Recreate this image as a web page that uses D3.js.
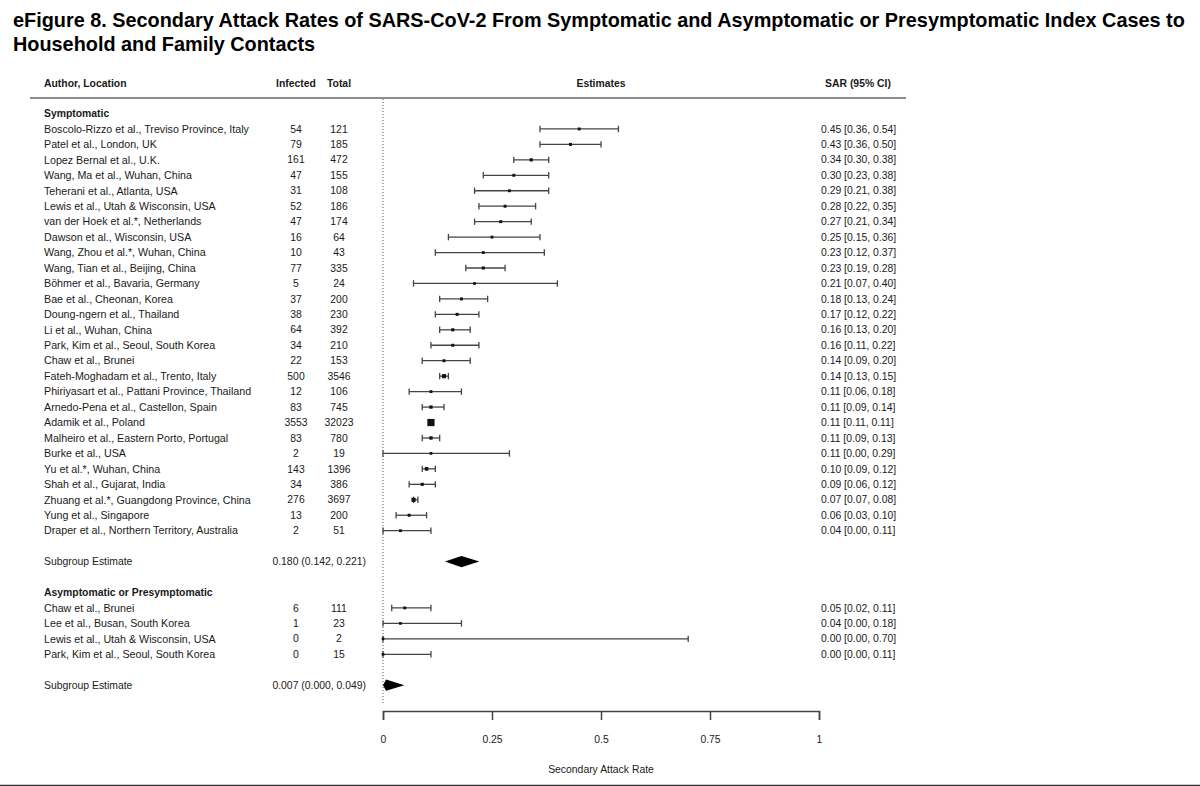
<!DOCTYPE html>
<html><head><meta charset="utf-8">
<script src="https://cdn.jsdelivr.net/npm/d3@7"></script>
<style>
html,body{margin:0;padding:0;background:#fff;}
svg{display:block;font-family:"Liberation Sans",Arial,Helvetica,sans-serif;}
</style></head><body>
<svg id="c" width="1200" height="786"></svg>
<script>
// ---- data ----
const titleLines = ["eFigure 8. Secondary Attack Rates of SARS-CoV-2 From Symptomatic and Asymptomatic or Presymptomatic Index Cases to","Household and Family Contacts"];
const headers = ["Author, Location","Infected","Total","Estimates","SAR (95% CI)"];
const groupNames = ["Symptomatic","Asymptomatic or Presymptomatic"];

const symAuthors = ["Boscolo-Rizzo et al., Treviso Province, Italy","Patel et al., London, UK","Lopez Bernal et al., U.K.","Wang, Ma et al., Wuhan, China","Teherani et al., Atlanta, USA","Lewis et al., Utah & Wisconsin, USA","van der Hoek et al.*, Netherlands","Dawson et al., Wisconsin, USA","Wang, Zhou et al.*, Wuhan, China","Wang, Tian et al., Beijing, China","Böhmer et al., Bavaria, Germany","Bae et al., Cheonan, Korea","Doung-ngern et al., Thailand","Li et al., Wuhan, China","Park, Kim et al., Seoul, South Korea","Chaw et al., Brunei","Fateh-Moghadam et al., Trento, Italy","Phiriyasart et al., Pattani Province, Thailand","Arnedo-Pena et al., Castellon, Spain","Adamik et al., Poland","Malheiro et al., Eastern Porto, Portugal","Burke et al., USA","Yu et al.*, Wuhan, China","Shah et al., Gujarat, India","Zhuang et al.*, Guangdong Province, China","Yung et al., Singapore","Draper et al., Northern Territory, Australia"];
const symInfected = [54,79,161,47,31,52,47,16,10,77,5,37,38,64,34,22,500,12,83,3553,83,2,143,34,276,13,2];
const symTotal = [121,185,472,155,108,186,174,64,43,335,24,200,230,392,210,153,3546,106,745,32023,780,19,1396,386,3697,200,51];
const symEst = [0.45,0.43,0.34,0.30,0.29,0.28,0.27,0.25,0.23,0.23,0.21,0.18,0.17,0.16,0.16,0.14,0.14,0.11,0.11,0.11,0.11,0.11,0.10,0.09,0.07,0.06,0.04];
const symLo  = [0.36,0.36,0.30,0.23,0.21,0.22,0.21,0.15,0.12,0.19,0.07,0.13,0.12,0.13,0.11,0.09,0.13,0.06,0.09,0.11,0.09,0.00,0.09,0.06,0.07,0.03,0.00];
const symHi  = [0.54,0.50,0.38,0.38,0.38,0.35,0.34,0.36,0.37,0.28,0.40,0.24,0.22,0.20,0.22,0.20,0.15,0.18,0.14,0.11,0.13,0.29,0.12,0.12,0.08,0.10,0.11];

const asyAuthors = ["Chaw et al., Brunei","Lee et al., Busan, South Korea","Lewis et al., Utah & Wisconsin, USA","Park, Kim et al., Seoul, South Korea"];
const asyInfected = [6,1,0,0];
const asyTotal = [111,23,2,15];
const asyEst = [0.05,0.04,0.00,0.00];
const asyLo  = [0.02,0.00,0.00,0.00];
const asyHi  = [0.11,0.18,0.70,0.11];

const subLabel = "Subgroup Estimate";
const subEst = [0.180,0.007];
const subLo  = [0.142,0.000];
const subHi  = [0.221,0.049];

const tickValues = [0,0.25,0.5,0.75,1];
const tickLabels = ["0","0.25","0.5","0.75","1"];
const axisTitle = "Secondary Attack Rate";

// ---- layout ----
const svg = d3.select("#c");
const x = d3.scaleLinear().domain([0,1]).range([383,819]);
const y = d3.scaleLinear().domain([-1,36]).range([113.5,685.2]);
const colAuthor = 44, colInf = 296, colTot = 339, colSar = 821, colSubEnd = 366;
const txtColor = "#1a1a1a", lineColor = "#454545";
const fs = 10.4, fsLab = 10.7;

// rows
const rows = [];
rows.push({type:"head", idx:-1, label:groupNames[0]});
symAuthors.forEach((a,i)=>rows.push({type:"study", idx:i, label:a, inf:symInfected[i], tot:symTotal[i], est:symEst[i], lo:symLo[i], hi:symHi[i]}));
rows.push({type:"sub", idx:28, est:subEst[0], lo:subLo[0], hi:subHi[0]});
rows.push({type:"head", idx:30, label:groupNames[1]});
asyAuthors.forEach((a,i)=>rows.push({type:"study", idx:31+i, label:a, inf:asyInfected[i], tot:asyTotal[i], est:asyEst[i], lo:asyLo[i], hi:asyHi[i]}));
rows.push({type:"sub", idx:36, est:subEst[1], lo:subLo[1], hi:subHi[1]});

// title
svg.append("g").selectAll("text").data(titleLines).join("text")
  .attr("x",13).attr("y",(d,i)=>27+i*23.5)
  .attr("font-size",19.85).attr("font-weight","bold").attr("fill","#000")
  .text(d=>d);

// headers
const hy = 83;
const hdr = svg.append("g").attr("font-size",fs).attr("font-weight","bold").attr("fill",txtColor);
hdr.append("text").attr("x",colAuthor).attr("y",hy).attr("dy","0.35em").text(headers[0]);
hdr.append("text").attr("x",colInf).attr("y",hy).attr("dy","0.35em").attr("text-anchor","middle").text(headers[1]);
hdr.append("text").attr("x",colTot).attr("y",hy).attr("dy","0.35em").attr("text-anchor","middle").text(headers[2]);
hdr.append("text").attr("x",x(0.5)).attr("y",hy).attr("dy","0.35em").attr("text-anchor","middle").text(headers[3]);
hdr.append("text").attr("x",858).attr("y",hy).attr("dy","0.35em").attr("text-anchor","middle").text(headers[4]);
svg.append("line").attr("x1",30).attr("x2",906).attr("y1",98).attr("y2",98)
  .attr("stroke","#666").attr("stroke-width",1.5);

// reference line at 0
svg.append("line").attr("x1",x(0)).attr("x2",x(0)).attr("y1",99).attr("y2",705)
  .attr("stroke","#555").attr("stroke-width",1).attr("stroke-dasharray","1,2");

const g = svg.append("g").attr("font-size",fs).attr("fill",txtColor);

// left text
g.selectAll("text.lab").data(rows).join("text")
  .attr("class","lab").attr("x",colAuthor).attr("y",d=>y(d.idx)).attr("dy","0.35em")
  .attr("font-size",d=>d.type==="study"?fsLab:fs)
  .attr("font-weight",d=>d.type==="head"?"bold":"normal")
  .text(d=>d.type==="sub"?subLabel:d.label);

const studies = rows.filter(r=>r.type==="study");
g.selectAll("text.inf").data(studies).join("text").attr("class","inf")
  .attr("x",colInf).attr("y",d=>y(d.idx)).attr("dy","0.35em").attr("text-anchor","middle").text(d=>d.inf);
g.selectAll("text.tot").data(studies).join("text").attr("class","tot")
  .attr("x",colTot).attr("y",d=>y(d.idx)).attr("dy","0.35em").attr("text-anchor","middle").text(d=>d.tot);
g.selectAll("text.sar").data(studies).join("text").attr("class","sar")
  .attr("x",colSar).attr("y",d=>y(d.idx)).attr("dy","0.35em")
  .text(d=>`${d.est.toFixed(2)} [${d.lo.toFixed(2)}, ${d.hi.toFixed(2)}]`);

const subs = rows.filter(r=>r.type==="sub");
g.selectAll("text.sube").data(subs).join("text").attr("class","sube")
  .attr("x",colSubEnd).attr("y",d=>y(d.idx)).attr("dy","0.35em").attr("text-anchor","end")
  .text(d=>`${d.est.toFixed(3)} (${d.lo.toFixed(3)}, ${d.hi.toFixed(3)})`);

// CI lines
const ci = svg.append("g").attr("stroke",lineColor).attr("stroke-width",1.3);
ci.selectAll("line.ci").data(studies).join("line").attr("class","ci")
  .attr("x1",d=>x(d.lo)).attr("x2",d=>x(d.hi)).attr("y1",d=>y(d.idx)).attr("y2",d=>y(d.idx));
ci.selectAll("line.capl").data(studies).join("line").attr("class","capl")
  .attr("x1",d=>x(d.lo)).attr("x2",d=>x(d.lo)).attr("y1",d=>y(d.idx)-3.2).attr("y2",d=>y(d.idx)+3.2);
ci.selectAll("line.caph").data(studies).join("line").attr("class","caph")
  .attr("x1",d=>x(d.hi)).attr("x2",d=>x(d.hi)).attr("y1",d=>y(d.idx)-3.2).attr("y2",d=>y(d.idx)+3.2);

// point squares (size from study size)
const maxTot = d3.max(studies, d=>d.tot);
const sz = d=>2.6 + 4.6*Math.sqrt(d.tot/maxTot);
svg.append("g").selectAll("rect").data(studies).join("rect")
  .attr("x",d=>x(d.est)-sz(d)/2).attr("y",d=>y(d.idx)-sz(d)/2)
  .attr("width",sz).attr("height",sz).attr("fill","#111");

// diamonds
svg.append("g").selectAll("path").data(subs).join("path")
  .attr("d",d=>{const yy=y(d.idx), h=5.6;
    return `M${x(d.lo)},${yy}L${x(d.est)},${yy-h}L${x(d.hi)},${yy}L${x(d.est)},${yy+h}Z`;})
  .attr("fill","#000");

// axis
const axis = d3.axisBottom(x).tickValues(tickValues).tickFormat((d,i)=>tickLabels[i]).tickSize(9).tickPadding(16);
const ax = svg.append("g").attr("transform","translate(0,711)").call(axis);
ax.select(".domain").attr("stroke",lineColor).attr("stroke-width",1.5);
ax.selectAll(".tick line").attr("stroke",lineColor).attr("stroke-width",1.5);
ax.selectAll(".tick text").attr("font-size",fs).attr("fill",txtColor).attr("font-family","Liberation Sans, Arial, sans-serif");
svg.append("text").attr("x",x(0.5)).attr("y",769).attr("dy","0.35em").attr("text-anchor","middle")
  .attr("font-size",fs).attr("fill",txtColor).text(axisTitle);

// bottom rule
svg.append("line").attr("x1",0).attr("x2",1200).attr("y1",785.5).attr("y2",785.5)
  .attr("stroke","#333").attr("stroke-width",1.5);
</script>
</body></html>
